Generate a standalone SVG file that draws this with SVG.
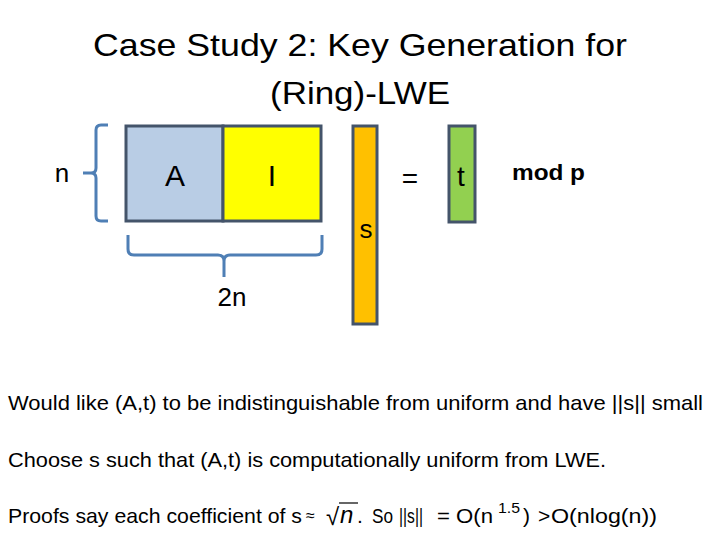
<svg xmlns="http://www.w3.org/2000/svg" width="720" height="540" viewBox="0 0 720 540">
<style>
text{font-family:"Liberation Sans","DejaVu Sans",sans-serif;fill:#000}
.box{stroke:#44546a;stroke-width:3}
.brace{fill:none;stroke:#4f7fb5;stroke-width:3;stroke-linejoin:round}
.big{font-size:30px}
.body{font-size:21px}
</style>
<rect width="720" height="540" fill="#fff"/>
<g id="title">
<text x="360" y="56" font-size="32" text-anchor="middle" textLength="534" lengthAdjust="spacingAndGlyphs">Case Study 2: Key Generation for</text>
<text x="360" y="104" font-size="32" text-anchor="middle" textLength="180" lengthAdjust="spacingAndGlyphs">(Ring)-LWE</text>
</g>
<g id="matrixA">
<rect class="box" x="126" y="126" width="97" height="95" fill="#b9cde5"/>
<text class="big" x="175" y="186" text-anchor="middle">A</text>
</g>
<g id="matrixI">
<rect class="box" x="223" y="126" width="98" height="95" fill="#ffff00"/>
<text class="big" x="272" y="186" text-anchor="middle">I</text>
</g>
<g id="vecS">
<rect class="box" x="353" y="126" width="24" height="198" fill="#ffc000"/>
<text x="366" y="238" font-size="26" text-anchor="middle">s</text>
</g>
<g id="eq">
<text x="410" y="188" font-size="28" text-anchor="middle">=</text>
</g>
<g id="vecT">
<rect class="box" x="449" y="126" width="26" height="96" fill="#92d050"/>
<text x="461" y="186" font-size="28" text-anchor="middle">t</text>
</g>
<g id="modp">
<text x="512" y="180" font-size="22" font-weight="bold" textLength="73" lengthAdjust="spacingAndGlyphs">mod p</text>
</g>
<g id="connectors">
<path class="brace" d="M108 125 H101 Q96 125 96 130 V168 Q96 173 91 173 H83 M91 173 Q96 173 96 178 V216 Q96 221 101 221 H108"/>
<path class="brace" d="M128 235 V249 Q128 255 134 255 H218 Q224 255 224 261 V277 M224 261 Q224 255 230 255 H316 Q322 255 322 249 V235"/>
</g>
<g id="labels">
<text x="62" y="182" font-size="26" text-anchor="middle">n</text>
<text x="232" y="306" font-size="26" text-anchor="middle">2n</text>
</g>
<g id="bullets" class="body">
<text x="8" y="410" textLength="695" lengthAdjust="spacingAndGlyphs">Would like (A,t) to be indistinguishable from uniform and have ||s|| small</text>
<text x="8" y="467" textLength="598" lengthAdjust="spacingAndGlyphs">Choose s such that (A,t) is computationally uniform from LWE.</text>
<text x="8" y="523" textLength="294" lengthAdjust="spacingAndGlyphs">Proofs say each coefficient of s</text>
<text x="306" y="521" font-size="16">≈</text>
<text x="326" y="525" font-size="24" font-family="DejaVu Serif">√</text>
<line x1="339" y1="503" x2="358" y2="503" stroke="#000" stroke-width="1.2"/>
<text x="340" y="523" font-size="24" font-style="italic" font-family="Liberation Serif">n</text>
<text x="357" y="523">.</text>
<text x="372" y="523" textLength="21" lengthAdjust="spacingAndGlyphs">So</text>
<text x="399" y="523" textLength="24" lengthAdjust="spacingAndGlyphs">||s||</text>
<text x="437" y="523" textLength="56" lengthAdjust="spacingAndGlyphs">= O(n</text>
<text x="498" y="513" font-size="14" textLength="22" lengthAdjust="spacingAndGlyphs">1.5</text>
<text x="523" y="523">)</text>
<text x="538" y="523">&gt;</text>
<text x="551" y="523" textLength="106" lengthAdjust="spacingAndGlyphs">O(nlog(n))</text>
</g>
</svg>
